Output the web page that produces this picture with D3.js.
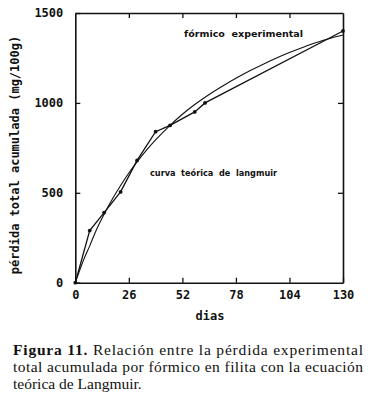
<!DOCTYPE html>
<html>
<head>
<meta charset="utf-8">
<script src="https://cdn.jsdelivr.net/npm/d3@7"></script>
<style>
  html, body { margin: 0; padding: 0; background: #fff; }
  svg { display: block; }
</style>
</head>
<body>
<script>
// ---- data ----
const expDays   = [0, 7, 14, 22, 30, 39, 46, 58, 63, 130];
const expValues = [0, 290, 390, 505, 680, 840, 875, 950, 1000, 1400];

const theoDays   = [0, 4, 7, 10, 14, 18, 22, 26, 30, 35, 39, 46, 52, 58, 65, 72, 78, 85, 91, 98, 104, 111, 117, 124, 130];
const theoValues = [0, 126, 205, 288, 381, 465, 541, 610, 672, 743, 794, 875, 937, 991, 1047, 1097, 1137, 1180, 1214, 1251, 1280, 1311, 1336, 1360, 1378];

const xTicks = [0, 26, 52, 78, 104, 130];
const yTicks = [0, 500, 1000, 1500];

const yLabel = "pérdida total acumulada (mg/100g)";
const xLabel = "dias";
const labelExp = "fórmico  experimental";
const labelTheo = "curva  teórica  de  langmuir";
const captionBold = "Figura 11.";
const captionLines = [
  " Relación entre la pérdida experimental",
  "total acumulada por fórmico en filita con la ecuación",
  "teórica de Langmuir."
];

// ---- drawing ----
const W = 368, H = 410;
const svg = d3.select("body").append("svg").attr("width", W).attr("height", H);

const x = d3.scaleLinear().domain([0, 130]).range([75.3, 343]);
const y = d3.scaleLinear().domain([0, 1500]).range([282.7, 13]);

const monoFont = "'DejaVu Sans Mono', monospace";

// frame + axes (inward ticks)
const gB = svg.append("g").attr("transform", `translate(0,${y(0)})`)
  .call(d3.axisBottom(x).tickValues(xTicks).tickFormat(d3.format("d")).tickSize(-5).tickSizeOuter(0).tickPadding(8));
const gL = svg.append("g").attr("transform", `translate(${x(0)},0)`)
  .call(d3.axisLeft(y).tickValues(yTicks).tickFormat(d3.format("d")).tickSize(-5).tickSizeOuter(0).tickPadding(12));
const gT = svg.append("g").attr("transform", `translate(0,${y(1500)})`)
  .call(d3.axisTop(x).tickValues(xTicks.slice(1, -1)).tickSize(-5).tickSizeOuter(0).tickFormat(""));
const gR = svg.append("g").attr("transform", `translate(${x(130)},0)`)
  .call(d3.axisRight(y).tickValues(yTicks.slice(1, -1)).tickSize(-5).tickSizeOuter(0).tickFormat(""));

[gB, gL, gT, gR].forEach(g => {
  g.selectAll(".domain").attr("stroke", "#111").attr("stroke-width", 1.6);
  g.selectAll(".tick line").attr("stroke", "#111").attr("stroke-width", 1.3);
  g.selectAll("text").attr("fill", "#111")
    .style("font-family", monoFont).style("font-weight", "bold").style("font-size", "12px");
});
gB.selectAll("text").attr("dy", "0.71em");

// theoretical curve
const line = d3.line().x(d => x(d[0])).y(d => y(d[1]));
svg.append("path")
  .datum(theoDays.map((d, i) => [d, theoValues[i]]))
  .attr("fill", "none").attr("stroke", "#111").attr("stroke-width", 1.1)
  .attr("d", line.curve(d3.curveMonotoneX));

// experimental polyline
const expData = expDays.map((d, i) => [d, expValues[i]]);
svg.append("path")
  .datum(expData)
  .attr("fill", "none").attr("stroke", "#111").attr("stroke-width", 1.3)
  .attr("d", d3.line().x(d => x(d[0])).y(d => y(d[1])));
svg.selectAll("circle.exp").data(expData).join("circle")
  .attr("class", "exp")
  .attr("cx", d => x(d[0])).attr("cy", d => y(d[1])).attr("r", 1.9).attr("fill", "#111");

// in-plot labels
svg.append("text").attr("x", 184).attr("y", 37)
  .attr("textLength", 119).attr("lengthAdjust", "spacingAndGlyphs")
  .style("font-family", "'DejaVu Sans', sans-serif").style("font-weight", "bold").style("font-size", "9px")
  .style("white-space", "pre").attr("fill", "#111").text(labelExp);
svg.append("text").attr("x", 150).attr("y", 176)
  .attr("textLength", 127).attr("lengthAdjust", "spacingAndGlyphs")
  .style("font-family", "'DejaVu Sans', sans-serif").style("font-weight", "bold").style("font-size", "9px")
  .style("white-space", "pre").attr("fill", "#111").text(labelTheo);

// axis titles
svg.append("text").attr("transform", "translate(19,155) rotate(-90)")
  .attr("text-anchor", "middle")
  .style("font-family", monoFont).style("font-weight", "bold").style("font-size", "12px")
  .attr("fill", "#111").text(yLabel);
svg.append("text").attr("x", 210).attr("y", 320).attr("text-anchor", "middle")
  .style("font-family", monoFont).style("font-weight", "bold").style("font-size", "12px")
  .attr("fill", "#111").text(xLabel);

// caption
const serif = "'Liberation Serif', 'Times New Roman', serif";
const c1 = svg.append("text").attr("x", 13).attr("y", 355)
  .attr("textLength", 350).attr("lengthAdjust", "spacing")
  .style("font-family", serif).style("font-size", "15.5px").attr("fill", "#111")
  .style("white-space", "pre");
c1.append("tspan").style("font-weight", "bold").text(captionBold);
c1.append("tspan").text(captionLines[0]);
svg.append("text").attr("x", 13).attr("y", 372)
  .attr("textLength", 350).attr("lengthAdjust", "spacing")
  .style("font-family", serif).style("font-size", "15.5px").attr("fill", "#111")
  .text(captionLines[1]);
svg.append("text").attr("x", 13).attr("y", 389)
  .style("font-family", serif).style("font-size", "15.5px").attr("fill", "#111")
  .text(captionLines[2]);
</script>
</body>
</html>
